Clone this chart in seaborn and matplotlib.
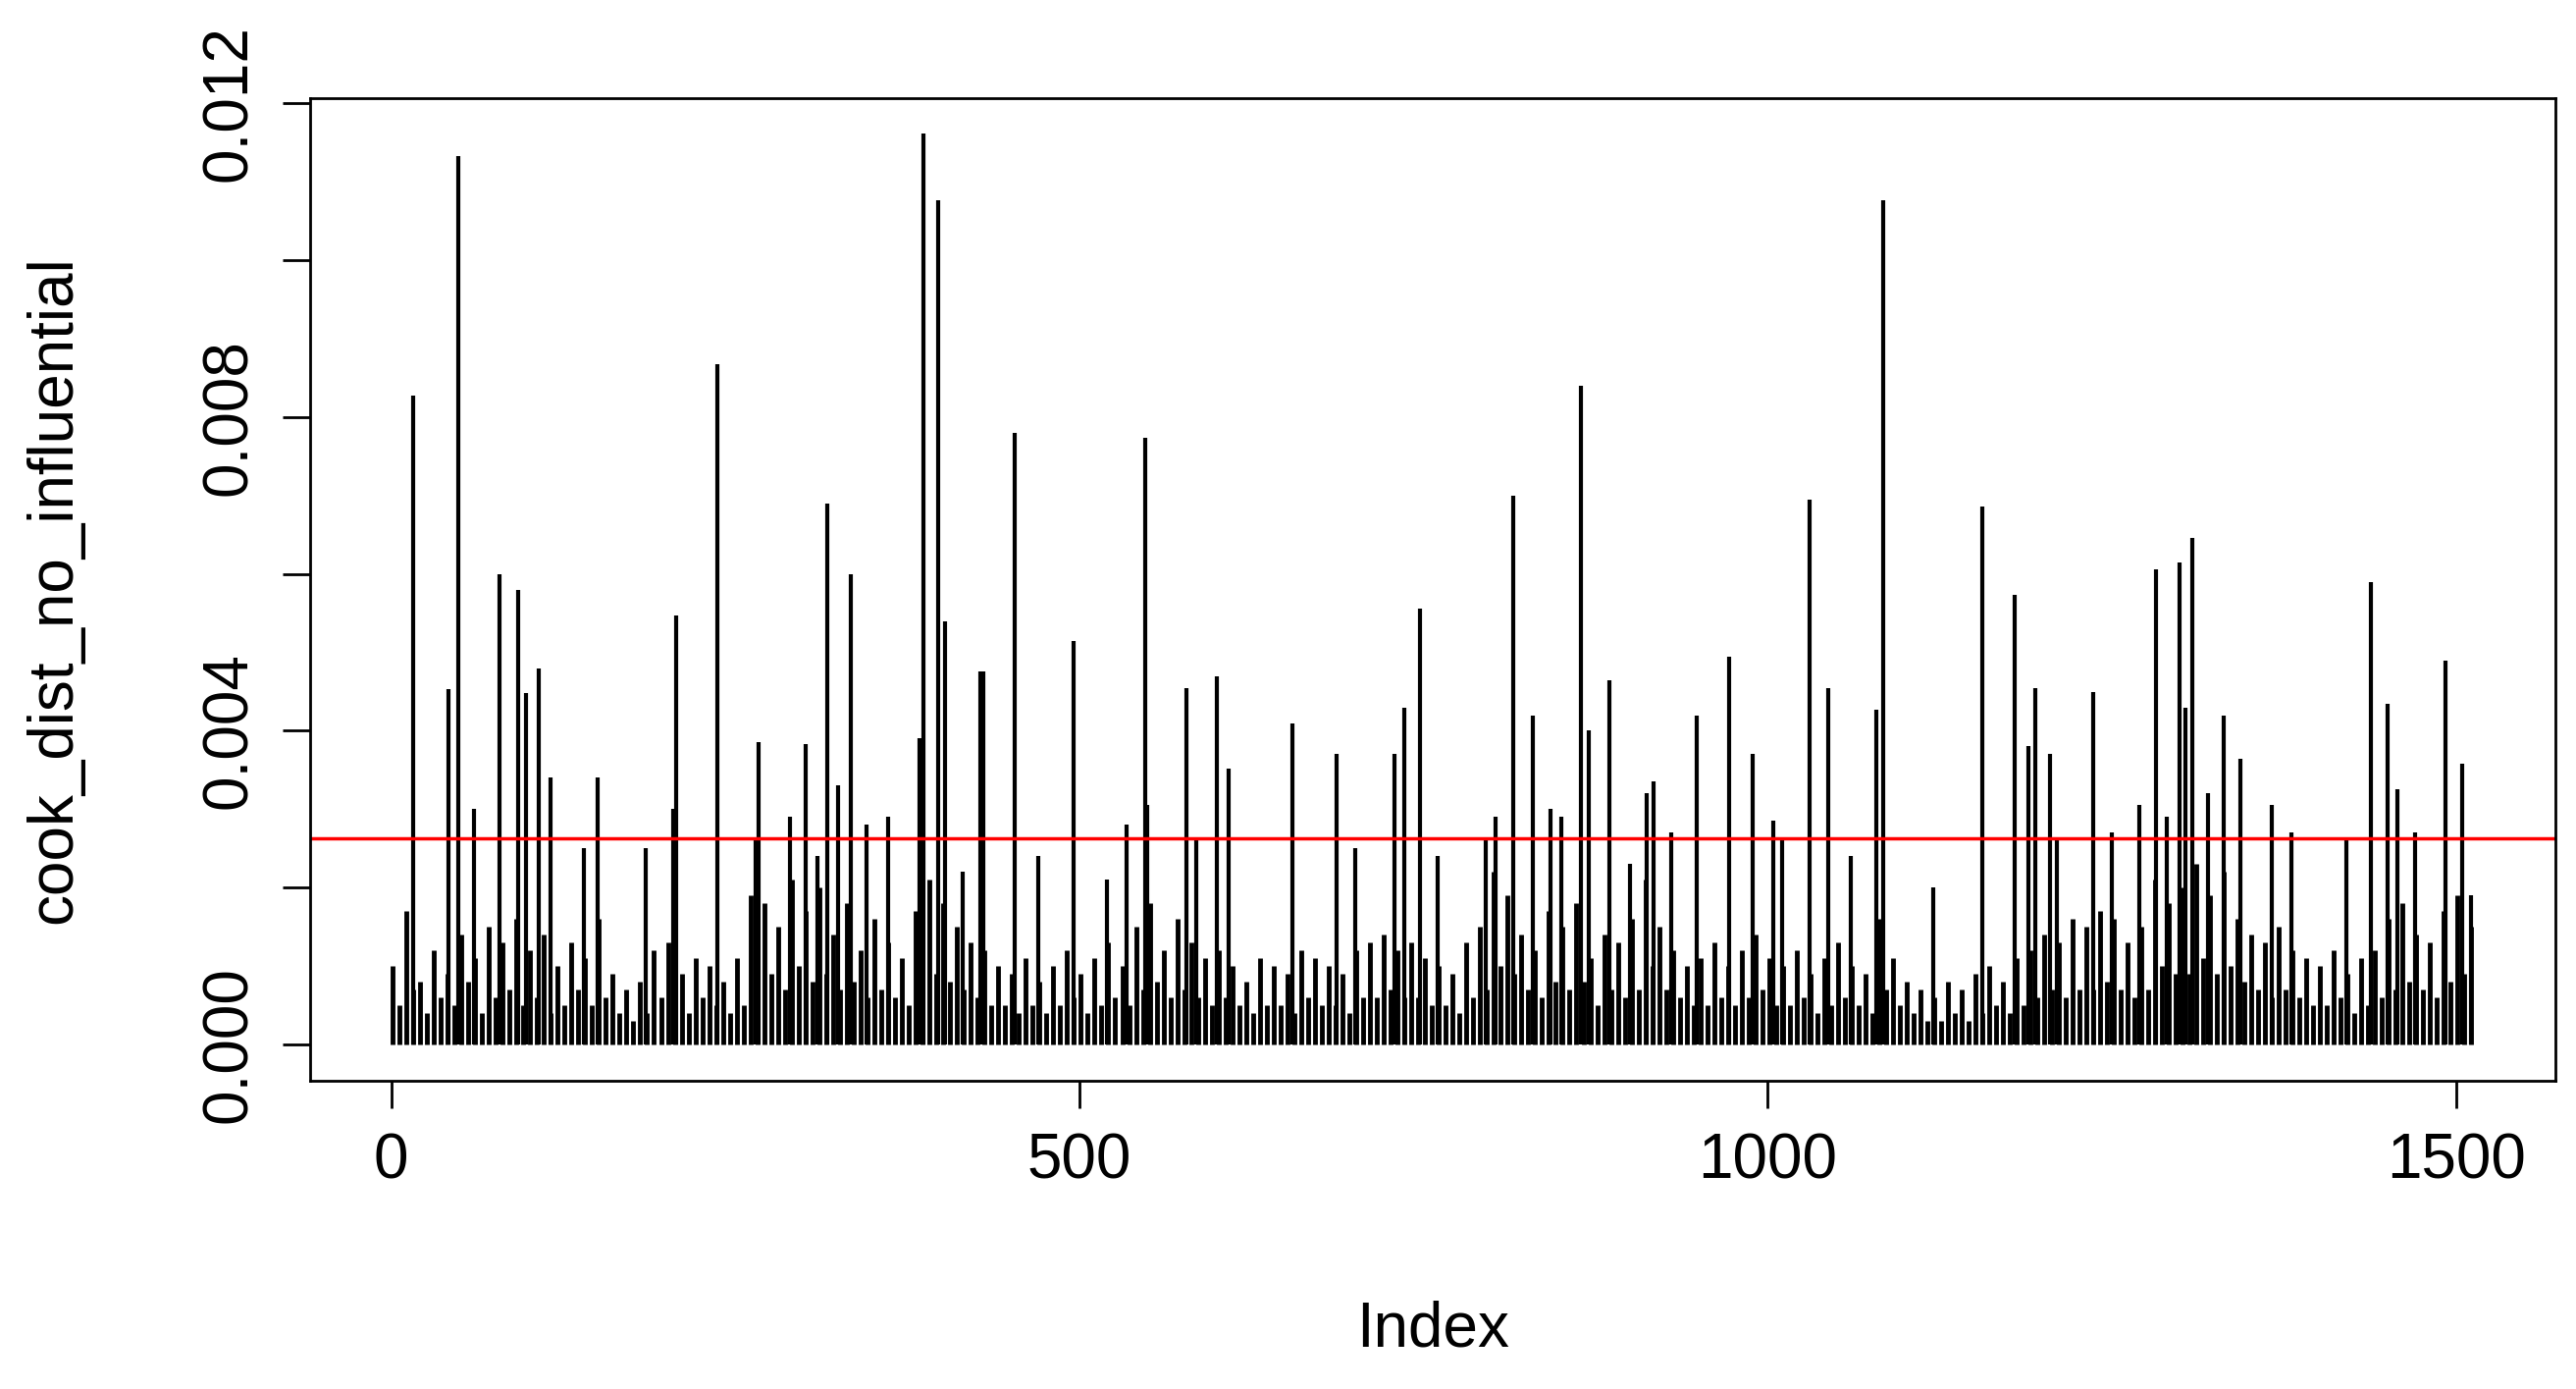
import numpy as np
import matplotlib
matplotlib.use("Agg")
import matplotlib.pyplot as plt
import seaborn as sns

# tall spikes: (index, cook's distance)
spike_index = [16, 42, 49, 79, 92, 98, 107, 116, 150, 205, 207, 237, 267, 301, 317, 325, 334,
               361, 384, 387, 397, 402, 428, 430, 453, 496, 534, 548, 549, 578, 600, 608, 655,
               687, 729, 736, 747, 802, 815, 829, 842, 864, 870, 885, 912, 917, 948, 972, 989,
               1004, 1030, 1044, 1079, 1084, 1156, 1179, 1189, 1194, 1205, 1236, 1270, 1282,
               1299, 1303, 1308, 1331, 1343, 1366, 1438, 1450, 1457, 1492, 1504, 1511,
               60, 140, 185, 265, 290, 310, 345, 415, 470, 520, 585, 700, 760, 795, 850, 900,
               930, 1010, 1060, 1120, 1210, 1250, 1290, 1320, 1380, 1420, 1470]
spike_value = [0.00827, 0.00453, 0.01133, 0.0060, 0.00579, 0.00448, 0.0048, 0.0034, 0.0034,
               0.0030, 0.00547, 0.00867, 0.00385, 0.00383, 0.0069, 0.0033, 0.0060, 0.0029,
               0.0039, 0.01162, 0.01076, 0.0054, 0.00476, 0.00476, 0.0078, 0.00514, 0.0028,
               0.00773, 0.00305, 0.00455, 0.0047, 0.00352, 0.0041, 0.0037, 0.0037, 0.0043,
               0.00556, 0.0029, 0.0070, 0.0042, 0.0030, 0.0084, 0.0040, 0.00465, 0.0032,
               0.00335, 0.0042, 0.00495, 0.0037, 0.00286, 0.00695, 0.00455, 0.00427, 0.01076,
               0.00686, 0.00573, 0.0038, 0.00455, 0.0037, 0.0045, 0.00305, 0.00606, 0.00615,
               0.0043, 0.00646, 0.0042, 0.00364, 0.00305, 0.0059, 0.00434, 0.00326, 0.0049,
               0.00358, 0.0019,
               0.0030, 0.0025, 0.0025, 0.0026, 0.0029, 0.0024, 0.0028, 0.0022, 0.0024, 0.0021,
               0.0026, 0.0025, 0.0024, 0.0026, 0.0029, 0.0023, 0.0027, 0.0026, 0.0024, 0.0020,
               0.0026, 0.0027, 0.0029, 0.0032, 0.0027, 0.0026, 0.0027]

# upper floor of the distances, one value per 10 observations (index 1, 11, 21, ...)
floor_index = list(range(1, 1512, 10))
floor_value = [0.0010, 0.0017, 0.0008, 0.0012, 0.0009, 0.0014, 0.0011, 0.0015, 0.0013, 0.0016,
               0.0012, 0.0014, 0.0010, 0.0013, 0.0011, 0.0016, 0.0009, 0.0007, 0.0008, 0.0012,
               0.0013, 0.0009, 0.0011, 0.0010, 0.0008, 0.0011, 0.0019, 0.0018, 0.0015, 0.0021,
               0.0017, 0.0020, 0.0014, 0.0018, 0.0012, 0.0016, 0.0013, 0.0011, 0.0017, 0.0021,
               0.0018, 0.0015, 0.0013, 0.0012, 0.0010, 0.0009, 0.0011, 0.0008, 0.0010, 0.0012,
               0.0009, 0.0011, 0.0013, 0.0010, 0.0015, 0.0018, 0.0012, 0.0016, 0.0013, 0.0011,
               0.0012, 0.0010, 0.0008, 0.0011, 0.0010, 0.0009, 0.0012, 0.0011, 0.0010, 0.0009,
               0.0012, 0.0013, 0.0014, 0.0012, 0.0013, 0.0011, 0.0010, 0.0009, 0.0013, 0.0015,
               0.0022, 0.0019, 0.0014, 0.0012, 0.0017, 0.0015, 0.0018, 0.0011, 0.0014, 0.0013,
               0.0016, 0.0021, 0.0015, 0.0012, 0.0010, 0.0011, 0.0013, 0.0010, 0.0012, 0.0014,
               0.0011, 0.0010, 0.0012, 0.0009, 0.0011, 0.0013, 0.0010, 0.0009, 0.0016, 0.0011,
               0.0008, 0.0007, 0.0006, 0.0008, 0.0007, 0.0009, 0.0010, 0.0008, 0.0011, 0.0012,
               0.0014, 0.0013, 0.0016, 0.0015, 0.0017, 0.0016, 0.0013, 0.0015, 0.0021, 0.0018,
               0.0020, 0.0023, 0.0019, 0.0022, 0.0016, 0.0014, 0.0013, 0.0015, 0.0012, 0.0011,
               0.0010, 0.0012, 0.0009, 0.0011, 0.0012, 0.0016, 0.0018, 0.0014, 0.0013, 0.0017,
               0.0019, 0.0015]

# lower floor, one value per 10 observations shifted by 5 (index 6, 16, 26, ...)
low_index = list(range(6, 1512, 10))
low_value = [0.0005, 0.0007, 0.0004, 0.0006, 0.0005, 0.0008, 0.0004, 0.0006, 0.0007, 0.0005,
             0.0006, 0.0004, 0.0005, 0.0007, 0.0005, 0.0006, 0.0004, 0.0003, 0.0004, 0.0006,
             0.0005, 0.0004, 0.0006, 0.0005, 0.0004, 0.0005, 0.0008, 0.0009, 0.0007, 0.0010,
             0.0008, 0.0009, 0.0007, 0.0008, 0.0006, 0.0007, 0.0006, 0.0005, 0.0008, 0.0009,
             0.0008, 0.0007, 0.0006, 0.0005, 0.0005, 0.0004, 0.0005, 0.0004, 0.0005, 0.0006,
             0.0004, 0.0005, 0.0006, 0.0005, 0.0007, 0.0008, 0.0006, 0.0007, 0.0006, 0.0005,
             0.0006, 0.0005, 0.0004, 0.0005, 0.0005, 0.0004, 0.0006, 0.0005, 0.0005, 0.0004,
             0.0006, 0.0006, 0.0007, 0.0006, 0.0006, 0.0005, 0.0005, 0.0004, 0.0006, 0.0007,
             0.0010, 0.0009, 0.0007, 0.0006, 0.0008, 0.0007, 0.0008, 0.0005, 0.0007, 0.0006,
             0.0007, 0.0010, 0.0007, 0.0006, 0.0005, 0.0005, 0.0006, 0.0005, 0.0006, 0.0007,
             0.0005, 0.0005, 0.0006, 0.0004, 0.0005, 0.0006, 0.0005, 0.0004, 0.0007, 0.0005,
             0.0004, 0.0003, 0.0003, 0.0004, 0.0003, 0.0004, 0.0005, 0.0004, 0.0005, 0.0006,
             0.0007, 0.0006, 0.0007, 0.0007, 0.0008, 0.0007, 0.0006, 0.0007, 0.0010, 0.0009,
             0.0009, 0.0011, 0.0009, 0.0010, 0.0008, 0.0007, 0.0006, 0.0007, 0.0006, 0.0005,
             0.0005, 0.0006, 0.0004, 0.0005, 0.0006, 0.0007, 0.0008, 0.0007, 0.0006, 0.0008,
             0.0009]

cutoff = 0.00263

sns.set_style("white")
plt.rcParams["font.family"] = ["Liberation Sans", "DejaVu Sans"]
plt.rcParams["text.color"] = "black"
plt.rcParams["axes.labelcolor"] = "black"

fig = plt.figure(figsize=(26.25, 14.15), dpi=100)
ax = fig.add_axes([0.1205, 0.222, 0.8715, 0.707])

ax.vlines(floor_index, 0, floor_value, color="black", linewidth=3.5)
ax.vlines(low_index, 0, low_value, color="black", linewidth=3.5)
ax.vlines(spike_index, 0, spike_value, color="black", linewidth=3)
ax.axhline(cutoff, color="red", linewidth=2.5)

ax.set_xlim(-58.6, 1572)
ax.set_ylim(-0.00046, 0.01206)
ax.set_xticks([0, 500, 1000, 1500])
ax.set_yticks([0, 0.002, 0.004, 0.006, 0.008, 0.010, 0.012])
ax.set_yticklabels(["0.000", "", "0.004", "", "0.008", "", "0.012"], rotation=90, va="center")
ax.tick_params(axis="both", direction="out", length=20, width=2, labelsize=46, pad=18,
               left=True, bottom=True, colors="black")
for s in ax.spines.values():
    s.set_color("black")
    s.set_linewidth(2)
ax.set_xlabel("Index", fontsize=46, labelpad=80)
ax.set_ylabel("cook_dist_no_influential", fontsize=46, labelpad=85)

fig.savefig("out.png", dpi=100)
